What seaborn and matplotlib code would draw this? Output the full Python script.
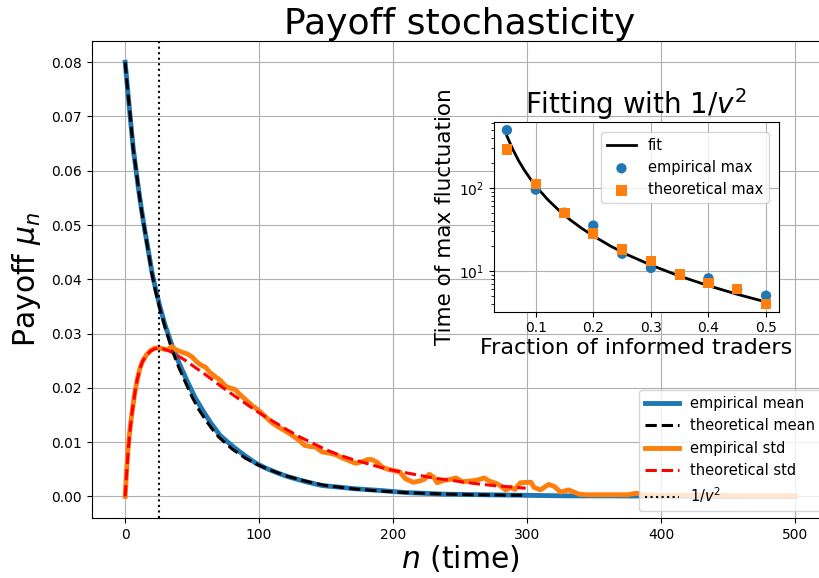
import numpy as np
import pandas as pd
import matplotlib
matplotlib.use("Agg")
import matplotlib.pyplot as plt
import seaborn as sns

# main panel: payoff mean and std against time n
mean_emp_n = [0, 2, 4, 6, 8, 10, 12, 14, 17, 20, 23, 26, 30, 35, 40, 46, 52, 58, 64, 71, 78, 84,
              90, 97, 105, 115, 122, 135, 147, 160, 172, 190, 210, 240, 270, 300, 330, 360, 400,
              450, 500]
mean_emp = [0.080, 0.0745, 0.0693, 0.0642, 0.0603, 0.0566, 0.0532, 0.0500, 0.0457, 0.0413, 0.0379,
            0.0349, 0.0314, 0.0278, 0.0247, 0.0214, 0.0183, 0.0158, 0.0135, 0.0112, 0.0097,
            0.0085, 0.0074, 0.0062, 0.0052, 0.0042, 0.0036, 0.0027, 0.0020, 0.0017, 0.0014,
            0.0011, 0.0007, 0.0004, 0.0003, 0.0002, 0.0001, 0.0001, 0.00005, 0.0, 0.0]

mean_th_n = [0, 2, 4, 6, 8, 10, 12, 14, 17, 20, 23, 26, 30, 35, 40, 45, 50, 55, 60, 65, 70, 80, 90,
             100, 110, 120, 130, 140, 150, 170, 190, 210, 230, 260, 299]
mean_th = [0.080, 0.0745, 0.0695, 0.0640, 0.0605, 0.0565, 0.0530, 0.0500, 0.0455, 0.0410, 0.0375,
           0.0345, 0.0310, 0.0270, 0.0238, 0.0210, 0.0183, 0.0160, 0.0141, 0.0124, 0.0109,
           0.0087, 0.0070, 0.0057, 0.0047, 0.0038, 0.0031, 0.0025, 0.0020, 0.0014, 0.0010,
           0.0007, 0.0005, 0.0003, 0.0002]

std_emp_n = [0, 1, 2, 3, 4, 5, 7, 9, 11, 13, 16, 19, 22, 25, 28, 31, 33, 35, 38, 42, 46, 50, 53, 56,
             60, 63, 67, 71, 75, 78, 82, 86, 90, 95, 100, 105, 110, 115, 120, 125, 130, 134, 138,
             142, 147, 152, 157, 162, 167, 172, 177, 181, 184, 188, 192, 196, 200, 205, 209, 215,
             219, 223, 227, 230, 233, 237, 242, 247, 252, 256, 260, 264, 268, 272, 277, 280, 284,
             288, 291, 295, 300, 303, 305, 310, 316, 320, 325, 331, 335, 339, 345, 360, 375, 382,
             386, 400, 430, 460, 500]
std_emp = [0.0, 0.0045, 0.0082, 0.0110, 0.0133, 0.0152, 0.0188, 0.0215, 0.0236, 0.0249, 0.0261,
           0.0269, 0.0273, 0.0274, 0.0272, 0.0270, 0.0273, 0.0276, 0.0270, 0.0266, 0.0263,
           0.0257, 0.0249, 0.0243, 0.0238, 0.0229, 0.0221, 0.0214, 0.0203, 0.0200, 0.0197,
           0.0187, 0.0178, 0.0167, 0.0158, 0.0146, 0.0135, 0.0127, 0.0120, 0.0112, 0.0103,
           0.0094, 0.0092, 0.0091, 0.0082, 0.0080, 0.0077, 0.0071, 0.0066, 0.0061, 0.0064,
           0.0068, 0.0068, 0.0063, 0.0054, 0.0050, 0.0048, 0.0045, 0.0033, 0.0026, 0.0028,
           0.0031, 0.0041, 0.0036, 0.0025, 0.0029, 0.0031, 0.0034, 0.0027, 0.0028, 0.0029,
           0.0031, 0.0034, 0.0028, 0.0024, 0.0020, 0.0012, 0.0016, 0.0013, 0.0025, 0.0026,
           0.0026, 0.0017, 0.0012, 0.0022, 0.0019, 0.0008, 0.0012, 0.0008, 0.0004, 0.0003,
           0.0003, 0.0003, 0.0006, 0.0003, 0.0002, 0.0002, 0.0001, 0.0001]

std_th_n = [0, 1, 2, 3, 4, 5, 6, 7.5, 9, 11, 13, 16, 19, 22, 25, 28, 32, 36, 40, 46, 52, 58, 65, 71,
            80, 90, 100, 110, 120, 130, 140, 150, 160, 170, 180, 190, 200, 215, 230, 245, 260,
            275, 290, 299]
std_th = [0.0, 0.0040, 0.0075, 0.0105, 0.0130, 0.0152, 0.0170, 0.0195, 0.0215, 0.0235, 0.0249,
          0.0260, 0.0268, 0.0272, 0.0273, 0.0272, 0.0269, 0.0264, 0.0258, 0.0249, 0.0238,
          0.0228, 0.0215, 0.0204, 0.0188, 0.0171, 0.0154, 0.0139, 0.0124, 0.0110, 0.0098,
          0.0086, 0.0076, 0.0068, 0.0061, 0.0054, 0.0048, 0.0041, 0.0034, 0.0029, 0.0024,
          0.0020, 0.0017, 0.0015]

vline_n = [25]

# inset: time of max fluctuation vs fraction of informed traders
frac = [0.05, 0.10, 0.15, 0.20, 0.25, 0.30, 0.35, 0.40, 0.45, 0.50]
t_emp = [495, 95, 50, 35, 16, 10.8, 9, 8.1, 6, 5.0]
t_th = [290, 112, 50, 28, 18, 13, 9, 7.1, 6.05, 4.0]
fit_v = [0.05, 0.06, 0.07, 0.08, 0.09, 0.10, 0.12, 0.14, 0.16, 0.18, 0.20, 0.23, 0.26, 0.30,
         0.35, 0.40, 0.45, 0.50]
fit_t = [420, 292, 214, 164, 130, 105, 73, 53.6, 41, 32.4, 26.3, 19.8, 15.5, 11.7, 8.6, 6.6,
         5.2, 4.2]

fig = plt.figure(figsize=(8.2, 5.78), dpi=100)
ax = fig.add_axes([0.1118, 0.1036, 0.8985, 0.8263])

sns.lineplot(x=mean_emp_n, y=mean_emp, ax=ax, color='tab:blue', lw=3.5,
             estimator=None, label='empirical mean')
sns.lineplot(x=mean_th_n, y=mean_th, ax=ax, color='black', lw=2.2, ls='--',
             estimator=None, label='theoretical mean')
sns.lineplot(x=std_emp_n, y=std_emp, ax=ax, color='tab:orange', lw=3.5,
             estimator=None, label='empirical std')
sns.lineplot(x=std_th_n, y=std_th, ax=ax, color='red', lw=2.2, ls='--',
             estimator=None, label='theoretical std')
for v in vline_n:
    ax.axvline(v, color='black', ls=':', lw=1.5, label='$1/v^2$')

ax.set_xlim(-25, 525)
ax.set_ylim(-0.004, 0.084)
ax.grid(True, color='#b0b0b0', lw=0.8)
ax.set_title('Payoff stochasticity', fontsize=26, pad=5)
ax.set_xlabel('$n$ (time)', fontsize=21.5, labelpad=1)
ax.set_ylabel(r'Payoff $\mu_n$', fontsize=21.5, labelpad=6)
ax.tick_params(labelsize=10)
ax.legend(loc='lower right', fontsize=10.5, handlelength=2.3)

# inset
ins = fig.add_axes([0.6024, 0.4606, 0.3476, 0.3287])
sns.lineplot(x=fit_v, y=fit_t, ax=ins, color='black', lw=2, estimator=None, label='fit')
sns.scatterplot(x=frac, y=t_emp, ax=ins, color='tab:blue', marker='o', s=55,
                edgecolor='none', label='empirical max', zorder=3)
sns.scatterplot(x=frac, y=t_th, ax=ins, color='tab:orange', marker='s', s=55,
                edgecolor='none', label='theoretical max', zorder=4)
ins.set_yscale('log')
ins.set_xlim(0.0275, 0.5225)
ins.set_ylim(3.2, 624)
ins.set_xticks([0.1, 0.2, 0.3, 0.4, 0.5])
ins.grid(True, color='#b0b0b0', lw=0.8)
ins.set_title('Fitting with $1/v^2$', fontsize=20, pad=5)
ins.set_xlabel('Fraction of informed traders', fontsize=16, labelpad=2)
ins.set_ylabel('Time of max fluctuation', fontsize=15.5, labelpad=3)
ins.tick_params(labelsize=10)
ins.legend(loc='upper right', fontsize=10.5, borderaxespad=0.7)

fig.savefig('out.png', dpi=100)
